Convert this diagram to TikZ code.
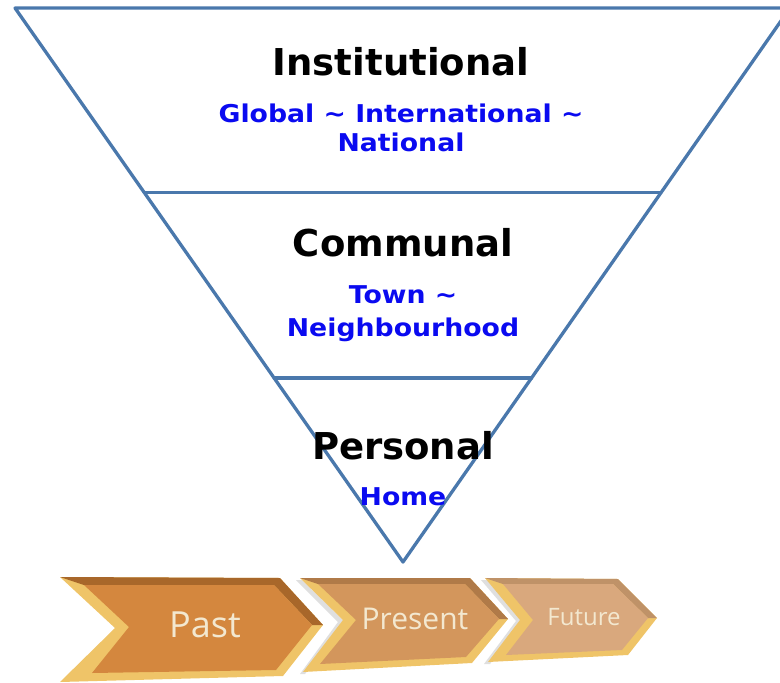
\documentclass[tikz,border=0pt]{standalone}
\usepackage{fontspec}
\setmainfont{DejaVu Sans}
\newfontfamily\scopefont{DejaVu Sans}[FakeStretch=1.09]
\newfontfamily\arrowfont{Open Sans}
\usetikzlibrary{calc}
\usetikzlibrary{positioning}

\definecolor{funnelblue}{HTML}{4A78AC}
\definecolor{scopeblue}{HTML}{0A0AF0}
\definecolor{bevellight}{HTML}{EFC468}
\definecolor{pastfill}{HTML}{D4873E}
\definecolor{pastdark}{HTML}{A8672A}
\definecolor{presentfill}{HTML}{D3965C}
\definecolor{presentdark}{HTML}{B07A48}
\definecolor{futurefill}{HTML}{D9A87D}
\definecolor{futuredark}{HTML}{BF9268}
\definecolor{arrowtext}{HTML}{F3E8D0}

\tikzset{
  funnel/.style={draw=funnelblue,line width=3.3pt},
  level/.style={font=\bfseries\fontsize{37}{40}\selectfont,text=black,inner sep=0pt},
  scope/.style={font=\scopefont\bfseries\fontsize{24.5}{29}\selectfont,text=scopeblue,align=center,inner sep=0pt},
  bevel/.style={fill=bevellight},
  shadowband/.style={fill=black!25,opacity=0.5},
  arrowlabel/.style={text=arrowtext,inner sep=0pt}
}

\begin{document}
\begin{tikzpicture}[line cap=round,line join=round,x=1pt,y=-1pt]
\useasboundingbox (0,0) rectangle (780,683);
% funnel of the three levels
\coordinate (tl) at (15,8);
\coordinate (tr) at (790,8);
\coordinate (apex) at (403,562);
\coordinate (l1) at ($(tl)!0.333!(apex)$);
\coordinate (r1) at ($(tr)!0.333!(apex)$);
\coordinate (l2) at ($(tl)!0.668!(apex)$);
\coordinate (r2) at ($(tr)!0.668!(apex)$);
\draw[funnel] (tl) -- (tr) -- (apex) -- cycle;
\draw[funnel] (l1) -- (r1);
\draw[funnel] (l2) -- (r2);
\node[level] (inst) at (401,62) {Institutional};
\node[scope] (instsub) at (401,128) {Global \textasciitilde{} International \textasciitilde\\National};
\node[level] (comm) at (403,243) {Communal};
\node[scope,font=\scopefont\bfseries\fontsize{24.5}{33}\selectfont] (commsub) at (403,314) {Town \textasciitilde\\Neighbourhood};
\node[level] (pers) at (403,446) {Personal};
\node[scope] (home) at (403,497) {Home};
% time arrows
\fill[shadowband] (302,580) -- (345,622) -- (305,674) -- (300,674) -- (338,622) -- (296,580) -- cycle;
\fill[shadowband] (487,580) -- (522,621) -- (490,664) -- (484,664) -- (516,621) -- (481,580) -- cycle;
% past
\fill[bevel] (60,577) -- (280,578) -- (323,625) -- (283,676) -- (60,682) -- (115,628) -- cycle;
\fill[pastdark] (60,577) -- (280,578) -- (323,625) -- (312,625) -- (274,585) -- (84,585) -- cycle;
\fill[pastfill] (84,585) -- (274,585) -- (312,625) -- (276,670) -- (92,673) -- (129,627) -- cycle;
\node[arrowlabel,font=\arrowfont\fontsize{36}{40}\selectfont] (past) at (205,625) {Past};
% present
\fill[bevel] (300,578) -- (470,578) -- (508,619) -- (472,663) -- (303,672) -- (343,620) -- cycle;
\fill[presentdark] (300,578) -- (470,578) -- (508,619) -- (499,619) -- (465,584) -- (318,584) -- cycle;
\fill[presentfill] (318,584) -- (465,584) -- (499,619) -- (466,657) -- (320,664) -- (356,620) -- cycle;
\node[arrowlabel,font=\arrowfont\fontsize{30}{34}\selectfont] (present) at (415,619) {Present};
% future
\fill[bevel] (485,578) -- (618,579) -- (657,618) -- (628,655) -- (488,662) -- (520,620) -- cycle;
\fill[futuredark] (485,578) -- (618,579) -- (657,618) -- (648,618) -- (613,584) -- (503,584) -- cycle;
\fill[futurefill] (503,584) -- (613,584) -- (648,618) -- (622,650) -- (506,655) -- (533,620) -- cycle;
\node[arrowlabel,font=\arrowfont\fontsize{24}{28}\selectfont] (future) at (584,617) {Future};
\end{tikzpicture}
\end{document}
